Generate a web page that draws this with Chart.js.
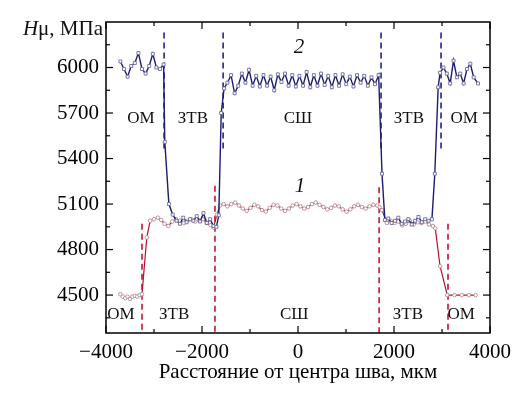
<!DOCTYPE html>
<html><head><meta charset="utf-8">
<script src="https://cdn.jsdelivr.net/npm/chart.js@4/dist/chart.umd.min.js"></script>
<style>html,body{margin:0;padding:0;background:#fff}#wrap{width:530px;height:399px}</style>
</head><body><div id="wrap"><canvas id="c" width="530" height="399"></canvas></div>
<script>
// ---- data ----
const xTicks = [-4000, -2000, 0, 2000, 4000];
const xMinorTicks = [-3000, -1000, 1000, 3000];
const yTicks = [4500, 4800, 5100, 5400, 5700, 6000];
const yMinorTicks = [4350, 4650, 4950, 5250, 5550, 5850, 6150];

// curve 2 (blue, squares)
const curve2X = [-3700,-3625,-3550,-3475,-3400,-3325,-3250,-3175,-3100,-3025,-2950,-2875,-2800,
  -2775,-2690,-2610,
  -2530,-2460,-2390,-2320,-2250,-2180,-2110,-2040,-1970,-1900,-1830,-1760,-1700,
  -1650,-1600,-1540,
  -1470,-1395,-1320,-1245,-1170,-1095,-1020,-945,-870,-795,-720,-645,-570,-495,-420,-345,-270,-195,-120,-45,
  30,105,180,255,330,405,480,555,630,705,780,855,930,1005,1080,1155,1230,1305,1380,1455,1530,1605,1680,
  1750,1810,
  1880,1950,2020,2090,2160,2230,2300,2370,2440,2510,2580,2650,2720,2790,
  2850,2920,
  2960,3030,3100,3170,3240,3310,3380,3450,3520,3590,3660,3750];
const curve2Y = [6040,5990,5940,6010,6030,6095,5990,5960,6010,6090,6000,5990,6020,
  5510,5100,5030,
  4990,4970,5010,4980,5000,4990,5020,4985,5040,4975,5000,4955,4950,
  5026,5700,5862,
  5900,5950,5830,5880,5960,5900,5985,5880,5945,5875,5950,5880,5940,5850,5955,5905,5960,5880,5950,5875,
  5945,5880,5970,5870,5950,5880,5960,5885,5945,5870,5950,5880,5955,5890,5940,5875,5950,5900,5945,5880,5935,5890,5950,
  5300,4995,
  5005,4975,4990,5010,4970,4985,5000,4965,4990,5015,4980,5000,4990,5000,
  5300,5870,
  5965,6000,5960,5895,6045,5935,5960,5895,5990,6025,5935,5895];

// curve 1 (red, circles)
const curve1X = [-3700,-3650,-3600,-3550,-3500,-3450,-3400,-3350,-3300,-3250,
  -3150,-3080,
  -3000,-2920,-2850,-2780,-2700,-2620,-2540,-2460,-2380,-2300,-2220,-2140,-2060,-1980,-1900,-1820,-1760,
  -1690,-1625,
  -1550,-1470,-1390,-1310,-1230,-1150,-1070,-990,-910,-830,-750,-670,-590,-510,-430,-350,-270,-190,-110,-30,
  50,130,210,290,370,450,530,610,690,770,850,930,1010,1090,1170,1250,1330,1410,1490,1570,1650,1700,
  1750,1850,
  1930,2010,2090,2170,2250,2330,2410,2490,2570,2650,2730,2810,2860,
  2960,3110,3260,3410,3560,3700];
const curve1Y = [4505,4490,4480,4490,4475,4490,4495,4490,4500,4505,
  4880,4990,
  5000,5010,4995,4970,4955,4985,5000,4990,4975,4990,5000,4985,4990,5000,4975,4960,4945,
  5030,5090,
  5100,5085,5100,5110,5090,5070,5055,5075,5095,5085,5060,5050,5075,5095,5090,5070,5055,5070,5090,5100,
  5085,5070,5080,5100,5110,5095,5080,5065,5075,5090,5085,5065,5050,5065,5085,5095,5080,5070,5085,5095,5090,5080,
  5060,4975,
  4990,4975,4985,4960,4970,4990,4965,4980,4975,4985,4965,4955,4940,
  4690,4500,4500,4500,4500,4500];

// zone boundaries (dashed)
const blueDividerX = [-2790, -1560, 1730, 2980];
const blueDividerTop = [6230, 6230, 6230, 6230];
const blueDividerBottom = [5450, 5450, 5450, 5450];
const redDividerX = [-3250, -1730, 1690, 3125];
const redDividerTop = [4970, 5220, 5210, 4970];
const redDividerBottom = [4250, 4250, 4250, 4250];

// zone labels
const zoneNames = ['ОМ', 'ЗТВ', 'СШ', 'ЗТВ', 'ОМ'];
const topZoneX = [-3270, -2190, 0, 2310, 3460];
const topZoneY = 5664;
const bottomZoneX = [-3690, -2580, -80, 2290, 3400];
const bottomZoneY = 4375;
const curveNames = ['2', '1'];
const curveNameX = [20, 40];
const curveNameY = [6132, 5217];

const xLabel = 'Расстояние от центра шва, мкм';

// ---- build ----
const toPts = (xs, ys) => xs.map((x, i) => ({x: x, y: ys[i]}));
const datasets = [];
blueDividerX.forEach((x, i) => datasets.push({
  data: [{x: x, y: blueDividerTop[i]}, {x: x, y: blueDividerBottom[i]}],
  borderColor: '#23238a', borderWidth: 1.6, borderDash: [6, 4], pointRadius: 0, order: 5
}));
redDividerX.forEach((x, i) => datasets.push({
  data: [{x: x, y: redDividerTop[i]}, {x: x, y: redDividerBottom[i]}],
  borderColor: '#c8132f', borderWidth: 1.6, borderDash: [6, 4], pointRadius: 0, order: 5
}));
datasets.push({
  data: toPts(curve1X, curve1Y), borderColor: '#b3122e', borderWidth: 1.2,
  pointStyle: 'circle', pointRadius: 1.8, pointBorderColor: '#b88a92', pointBackgroundColor: '#ffffff',
  pointBorderWidth: 0.9, order: 2
});
datasets.push({
  data: toPts(curve2X, curve2Y), borderColor: '#1c1c72', borderWidth: 1.4,
  pointStyle: 'rect', pointRadius: 2.1, pointBorderColor: '#6c6c9c', pointBackgroundColor: '#ffffff',
  pointBorderWidth: 0.9, order: 1
});

const FONT = "'Liberation Serif', 'Times New Roman', serif";

const decor = {
  id: 'decor',
  afterDatasetsDraw(chart) {
    const ctx = chart.ctx, a = chart.chartArea;
    const xs = chart.scales.x, ys = chart.scales.y;
    ctx.save();
    ctx.strokeStyle = '#000'; ctx.lineWidth = 1.5;
    ctx.strokeRect(a.left, a.top, a.right - a.left, a.bottom - a.top);
    ctx.lineWidth = 1.2;
    const tick = (x1, y1, x2, y2) => { ctx.beginPath(); ctx.moveTo(x1, y1); ctx.lineTo(x2, y2); ctx.stroke(); };
    yTicks.forEach(v => { const p = ys.getPixelForValue(v); tick(a.left, p, a.left + 7, p); tick(a.right, p, a.right - 7, p); });
    yMinorTicks.forEach(v => { const p = ys.getPixelForValue(v); tick(a.left, p, a.left + 4, p); tick(a.right, p, a.right - 4, p); });
    xTicks.forEach(v => { const p = xs.getPixelForValue(v); tick(p, a.bottom, p, a.bottom - 7); tick(p, a.top, p, a.top + 7); });
    xMinorTicks.forEach(v => { const p = xs.getPixelForValue(v); tick(p, a.bottom, p, a.bottom - 4); tick(p, a.top, p, a.top + 4); });
    // zone labels
    ctx.fillStyle = '#111';
    ctx.textAlign = 'center'; ctx.textBaseline = 'middle';
    ctx.font = '17px ' + FONT;
    zoneNames.forEach((t, i) => {
      ctx.fillText(t, xs.getPixelForValue(topZoneX[i]), ys.getPixelForValue(topZoneY));
      ctx.fillText(t, xs.getPixelForValue(bottomZoneX[i]), ys.getPixelForValue(bottomZoneY));
    });
    ctx.font = 'italic 21px ' + FONT;
    curveNames.forEach((t, i) => ctx.fillText(t, xs.getPixelForValue(curveNameX[i]), ys.getPixelForValue(curveNameY[i])));
    // y title
    ctx.textAlign = 'left'; ctx.textBaseline = 'alphabetic';
    ctx.font = 'italic 21px ' + FONT;
    const hW = ctx.measureText('H').width;
    ctx.font = '21px ' + FONT;
    const rest = 'μ, МПа';
    const rW = ctx.measureText(rest).width;
    const x0 = a.left - 3 - hW - rW, base = a.top + 13;
    ctx.font = 'italic 21px ' + FONT; ctx.fillText('H', x0, base);
    ctx.font = '21px ' + FONT; ctx.fillText(rest, x0 + hW, base);
    ctx.restore();
  }
};

new Chart(document.getElementById('c'), {
  type: 'line',
  data: {datasets: datasets},
  options: {
    responsive: false, animation: false,
    layout: {padding: {top: 22, right: 40, left: 0, bottom: 0}},
    plugins: {legend: {display: false}, tooltip: {enabled: false}},
    elements: {line: {tension: 0}},
    scales: {
      x: {
        type: 'linear', min: -4000, max: 4000,
        afterBuildTicks: s => { s.ticks = xTicks.map(v => ({value: v})); },
        afterFit: s => { s.height = 66; },
        grid: {display: false, drawTicks: false}, border: {display: false},
        ticks: {color: '#000', font: {family: FONT, size: 21}, padding: 7, maxRotation: 0,
          callback: v => v < 0 ? '\u2212' + Math.abs(v) : String(v)},
        title: {display: true, text: xLabel, color: '#000', font: {family: FONT, size: 21}, padding: {top: 0, bottom: 14}}
      },
      y: {
        type: 'linear', min: 4250, max: 6300,
        afterBuildTicks: s => { s.ticks = yTicks.map(v => ({value: v})); },
        afterFit: s => { s.width = 106; },
        grid: {display: false, drawTicks: false}, border: {display: false},
        ticks: {color: '#000', font: {family: FONT, size: 21}, padding: 7, callback: v => String(v)}
      }
    }
  },
  plugins: [decor]
});
</script></body></html>
